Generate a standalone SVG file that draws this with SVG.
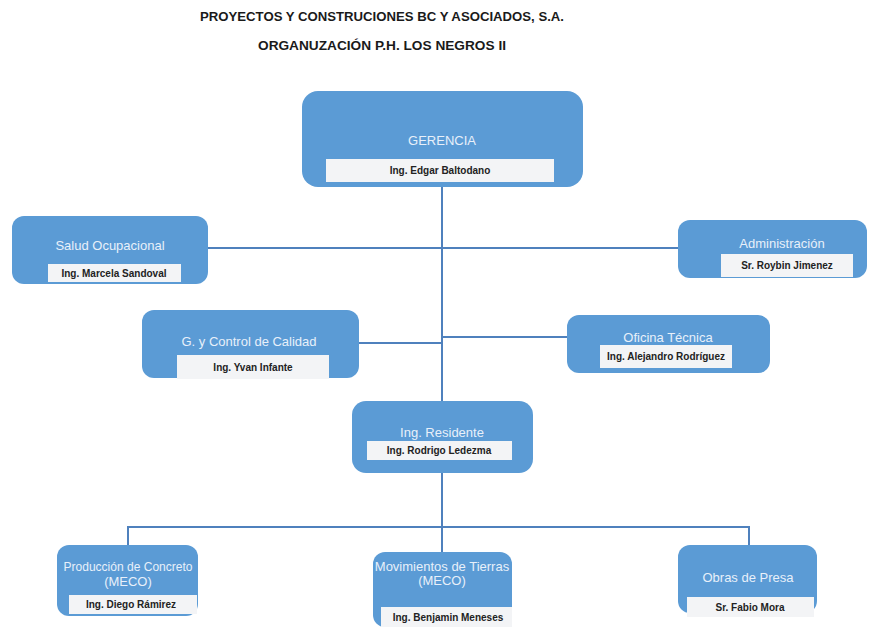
<svg xmlns="http://www.w3.org/2000/svg" width="871" height="627" viewBox="0 0 871 627">
  <style>
    .title { font-family: "Liberation Sans", Arial, sans-serif; font-weight: bold; font-size: 13px; fill: #1a1a1a; text-anchor: middle; }
    .box { fill: #5b9bd5; }
    .role { font-family: "Liberation Sans", Arial, sans-serif; font-size: 13px; fill: #e8f0fa; text-anchor: middle; }
    .plate { fill: #f3f4f6; }
    .name { font-family: "Liberation Sans", Arial, sans-serif; font-weight: bold; font-size: 10px; fill: #222; text-anchor: middle; }
    .link { stroke: #4f81bd; stroke-width: 2; fill: none; }
  </style>
  <rect width="871" height="627" fill="#ffffff"/>

  <text class="title" x="382" y="21" textLength="364" lengthAdjust="spacingAndGlyphs">PROYECTOS Y CONSTRUCIONES BC Y ASOCIADOS, S.A.</text>
  <text class="title" x="382" y="50" textLength="248" lengthAdjust="spacingAndGlyphs">ORGANUZACIÓN P.H. LOS NEGROS II</text>

  <g id="connectors">
    <path class="link" d="M442 187 V401"/>
    <path class="link" d="M208 248 H679"/>
    <path class="link" d="M359 343 H442"/>
    <path class="link" d="M442 337 H567"/>
    <path class="link" d="M442 473 V527"/>
    <path class="link" d="M128 545 V527 H749 V545"/>
    <path class="link" d="M442 527 V552"/>
  </g>

  <g id="gerencia">
    <rect class="box" x="302" y="91" width="281" height="96" rx="16"/>
    <text class="role" x="442" y="145" font-size="14">GERENCIA</text>
    <rect class="plate" x="326" y="159" width="228" height="23"/>
    <text class="name" x="440" y="174">Ing. Edgar Baltodano</text>
  </g>

  <g id="salud">
    <rect class="box" x="12" y="216" width="196" height="68" rx="12"/>
    <text class="role" x="110" y="250">Salud Ocupacional</text>
    <rect class="plate" x="48" y="264" width="133" height="18"/>
    <text class="name" x="114" y="277">Ing. Marcela Sandoval</text>
  </g>

  <g id="administracion">
    <rect class="box" x="678" y="220" width="189" height="58" rx="12"/>
    <text class="role" x="782" y="248">Administración</text>
    <rect class="plate" x="721" y="254" width="132" height="23"/>
    <text class="name" x="787" y="269">Sr. Roybin Jimenez</text>
  </g>

  <g id="calidad">
    <rect class="box" x="142" y="310" width="217" height="68" rx="12"/>
    <text class="role" x="249" y="346">G. y Control de Calidad</text>
    <rect class="plate" x="177" y="355" width="152" height="24"/>
    <text class="name" x="253" y="371">Ing. Yvan Infante</text>
  </g>

  <g id="oficina">
    <rect class="box" x="567" y="315" width="203" height="58" rx="12"/>
    <text class="role" x="668" y="342">Oficina Técnica</text>
    <rect class="plate" x="600" y="345" width="132" height="23"/>
    <text class="name" x="666" y="360">Ing. Alejandro Rodríguez</text>
  </g>

  <g id="residente">
    <rect class="box" x="352" y="401" width="181" height="72" rx="14"/>
    <text class="role" x="442" y="437">Ing. Residente</text>
    <rect class="plate" x="367" y="441" width="145" height="19"/>
    <text class="name" x="439" y="454">Ing. Rodrigo Ledezma</text>
  </g>

  <g id="concreto">
    <rect class="box" x="57" y="545" width="141" height="71" rx="12"/>
    <text class="role" x="128" y="571" font-size="11.5" textLength="129" lengthAdjust="spacingAndGlyphs">Producción de Concreto</text>
    <text class="role" x="128" y="586" font-size="11.5">(MECO)</text>
    <rect class="plate" x="69" y="595" width="128" height="19"/>
    <text class="name" x="131" y="608">Ing. Diego Rámirez</text>
  </g>

  <g id="tierras">
    <rect class="box" x="373" y="552" width="139" height="75" rx="12"/>
    <text class="role" x="442" y="571" font-size="11.5">Movimientos de Tierras</text>
    <text class="role" x="442" y="585" font-size="11.5">(MECO)</text>
    <rect class="plate" x="381" y="607" width="131" height="20"/>
    <text class="name" x="448" y="621">Ing. Benjamin Meneses</text>
  </g>

  <g id="presa">
    <rect class="box" x="678" y="545" width="139" height="68" rx="12"/>
    <text class="role" x="748" y="582">Obras de Presa</text>
    <rect class="plate" x="687" y="597" width="127" height="20"/>
    <text class="name" x="750" y="611">Sr. Fabio Mora</text>
  </g>
</svg>
